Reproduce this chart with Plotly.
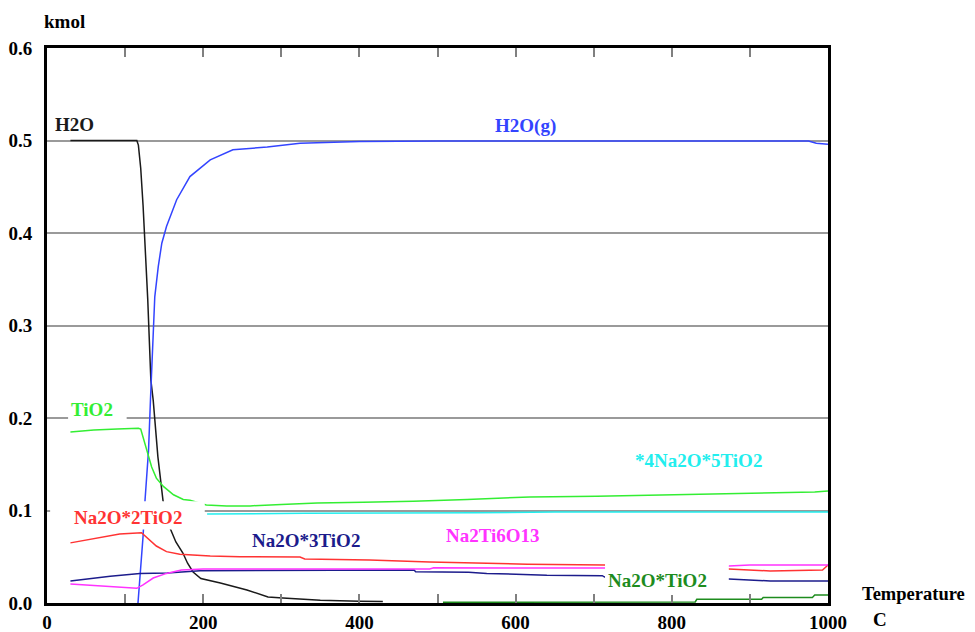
import plotly.graph_objects as go

# ---------------- data ----------------
h2o_t = [30, 60, 90, 115, 117, 120, 123, 126, 129, 133, 136, 142, 148.5, 153, 157.5, 165, 174, 180, 187, 197, 222, 256, 283, 302, 350, 400, 430]
h2o_v = [0.5, 0.5, 0.5, 0.5, 0.495, 0.47, 0.43, 0.38, 0.328, 0.241, 0.219, 0.158, 0.111, 0.095, 0.081, 0.066, 0.054, 0.043, 0.0335, 0.0265, 0.0216, 0.0141, 0.0065, 0.0054, 0.003, 0.002, 0.0015]

h2og_t = [116.5, 120, 123, 125.5, 130, 132.5, 135, 138, 142.5, 147, 153, 166, 183, 209, 238, 282, 324, 400, 500, 600, 700, 800, 900, 975, 985, 1000]
h2og_v = [0.0, 0.039, 0.072, 0.111, 0.165, 0.22, 0.28, 0.331, 0.364, 0.389, 0.407, 0.436, 0.461, 0.479, 0.490, 0.493, 0.497, 0.499, 0.4995, 0.4995, 0.4995, 0.4995, 0.4995, 0.4995, 0.497, 0.496]

tio2_t = [30, 60, 90, 117, 120, 127.6, 134, 140, 149, 162, 174.5, 183, 204, 230, 260, 300, 346, 405, 469, 538, 618, 704, 800, 894, 983, 1000]
tio2_v = [0.185, 0.187, 0.188, 0.189, 0.188, 0.165, 0.147, 0.135, 0.126, 0.117, 0.112, 0.111, 0.106, 0.105, 0.105, 0.1065, 0.108, 0.109, 0.110, 0.112, 0.1146, 0.1155, 0.1168, 0.118, 0.120, 0.121]

n4t5_t = [205, 330, 550, 650, 800, 1000]
n4t5_v = [0.0962, 0.097, 0.0975, 0.0984, 0.0984, 0.0984]

n2t_t = [30, 77, 93, 121, 132, 140, 153, 170, 209, 247, 324, 330, 413, 490, 615, 673, 714, 873, 926, 993, 1000]
n2t_v = [0.065, 0.072, 0.0746, 0.076, 0.068, 0.0616, 0.0555, 0.0526, 0.0508, 0.050, 0.0497, 0.0476, 0.0465, 0.0443, 0.042, 0.041, 0.041, 0.0368, 0.0346, 0.0357, 0.041]

n3t_t = [30, 81, 119, 154, 196, 324, 470, 472, 540, 563, 640, 711, 714, 873, 926, 1000]
n3t_v = [0.0238, 0.029, 0.032, 0.0325, 0.0350, 0.0357, 0.0357, 0.0339, 0.0332, 0.032, 0.030, 0.0295, 0.028, 0.0259, 0.0238, 0.0238]

nt6_t = [30, 85, 115, 123, 136, 153, 172, 200, 300, 490, 495, 600, 714, 873, 900, 1000]
nt6_v = [0.0205, 0.0176, 0.0159, 0.0195, 0.027, 0.032, 0.0357, 0.0368, 0.0368, 0.0368, 0.038, 0.038, 0.0378, 0.040, 0.041, 0.041]

n1t_t = [507, 600, 700, 830, 832, 915, 917, 980, 983, 1000]
n1t_v = [0.0008, 0.001, 0.001, 0.0012, 0.004, 0.004, 0.006, 0.006, 0.0086, 0.0086]

x_ticks = [0, 100, 200, 300, 400, 500, 600, 700, 800, 900, 1000]
x_ticktext = ["0", "", "200", "", "400", "", "600", "", "800", "", "1000"]
y_ticks = [0.0, 0.1, 0.2, 0.3, 0.4, 0.5, 0.6]
y_ticktext = ["0.0", "0.1", "0.2", "0.3", "0.4", "0.5", "0.6"]

# series: (name, t, v, color, label, label_t, label_v)
series = [
    ("H2O", h2o_t, h2o_v, "#1a1a1a", "H2O", 35, 0.517),
    ("H2O(g)", h2og_t, h2og_v, "#3344ff", "H2O(g)", 613, 0.516),
    ("TiO2", tio2_t, tio2_v, "#33ee33", "TiO2", 58, 0.2097),
    ("*4Na2O*5TiO2", n4t5_t, n4t5_v, "#22eeee", "*4Na2O*5TiO2", 834, 0.1546),
    ("Na2O*2TiO2", n2t_t, n2t_v, "#ff3333", "Na2O*2TiO2", 104, 0.0919),
    ("Na2O*3TiO2", n3t_t, n3t_v, "#1c1c8c", "Na2O*3TiO2", 332, 0.068),
    ("Na2Ti6O13", nt6_t, nt6_v, "#ff33ff", "Na2Ti6O13", 571, 0.0735),
    ("Na2O*TiO2", n1t_t, n1t_v, "#1e8c1e", "Na2O*TiO2", 782, 0.0238),
]

FONT = "Liberation Serif, Times New Roman, serif"

fig = go.Figure()
for name, t, v, col, lab, lt, lv in series:
    fig.add_trace(go.Scatter(x=t, y=v, mode="lines", name=name,
                             line=dict(color=col, width=1.5), showlegend=False))

# white label backgrounds (the original software blanks lines under labels)
masks = [(27, 102, 0.1935, 0.225), (4, 202, 0.0795, 0.1100), (714.5, 873, 0.0087, 0.0443)]
for x0, x1, y0, y1 in masks:
    fig.add_shape(type="rect", xref="x", yref="y", x0=x0, x1=x1, y0=y0, y1=y1,
                  fillcolor="white", line=dict(width=0), layer="above")

for name, t, v, col, lab, lt, lv in series:
    fig.add_annotation(x=lt, y=lv, xref="x", yref="y", text=lab, showarrow=False,
                       xanchor="center", yanchor="middle",
                       font=dict(family=FONT, size=19, color=col, weight="bold"))

fig.add_annotation(x=0.0218, y=1.047, xref="paper", yref="paper", text="kmol", showarrow=False,
                   xanchor="center", yanchor="middle", font=dict(family=FONT, size=19, color="black", weight="bold"))
fig.add_annotation(x=1.109, y=0.0162, xref="paper", yref="paper", text="Temperature", showarrow=False,
                   xanchor="center", yanchor="middle", font=dict(family=FONT, size=18.5, color="black", weight="bold"))
fig.add_annotation(x=1.0666, y=-0.0306, xref="paper", yref="paper", text="C", showarrow=False,
                   xanchor="center", yanchor="middle", font=dict(family=FONT, size=19, color="black", weight="bold"))

fig.update_layout(
    width=967, height=624,
    margin=dict(l=39, r=147, t=40, b=29, autoexpand=False),
    paper_bgcolor="white", plot_bgcolor="white",
    font=dict(family=FONT, size=19, color="black", weight="bold"),
    xaxis=dict(range=[0, 1000], tickvals=x_ticks, ticktext=x_ticktext,
               ticks="inside", ticklen=9, tickwidth=1.5, tickcolor="#808080",
               showline=True, linecolor="black", linewidth=3, mirror="ticks",
               showgrid=False, zeroline=False, automargin=False,
               tickfont=dict(family=FONT, size=19, color="black", weight="bold"),
               ticklabelstandoff=0),
    yaxis=dict(range=[0, 0.6], tickvals=y_ticks, ticktext=y_ticktext,
               ticks="", showline=True, linecolor="black", linewidth=3, mirror=True,
               showgrid=True, gridcolor="#9a9a9a", gridwidth=1.5, zeroline=False,
               automargin=False,
               tickfont=dict(family=FONT, size=19, color="black", weight="bold"),
               ticklabelstandoff=8),
)

fig.write_html("out.html")
